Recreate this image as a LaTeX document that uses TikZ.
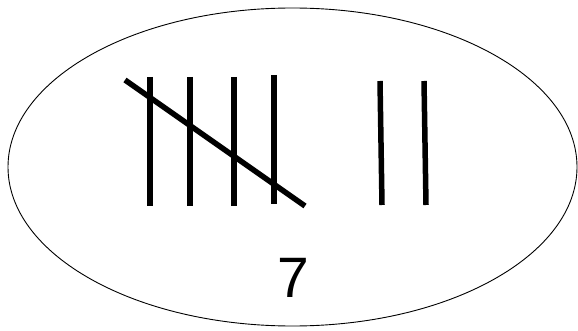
\documentclass[tikz,border=0pt]{standalone}
\usepackage{fontspec}
\setmainfont{Liberation Sans}
\begin{document}
\begin{tikzpicture}[x=1pt,y=-1pt,
  tally/.style={line width=5.5pt},
  rim/.style={line width=0.9pt}]
\useasboundingbox (0,0) rectangle (578,331);
\draw[rim] (292.5,167) ellipse [x radius=284.5, y radius=159];
\coordinate (a1) at (150,77); \coordinate (b1) at (150,206);
\coordinate (a2) at (190,77); \coordinate (b2) at (190,206);
\coordinate (a3) at (234,77); \coordinate (b3) at (234,206);
\coordinate (a4) at (274,75); \coordinate (b4) at (274,204);
\coordinate (a5) at (380,81); \coordinate (b5) at (382,205);
\coordinate (a6) at (424,81); \coordinate (b6) at (426,205);
\coordinate (d1) at (125,80); \coordinate (d2) at (305,206);
\foreach \i in {1,...,6} \draw[tally] (a\i) -- (b\i);
\draw[tally] (d1) -- (d2);
\node (seven) at (293,278) {\fontsize{57}{60}\selectfont 7};
\end{tikzpicture}
\end{document}
